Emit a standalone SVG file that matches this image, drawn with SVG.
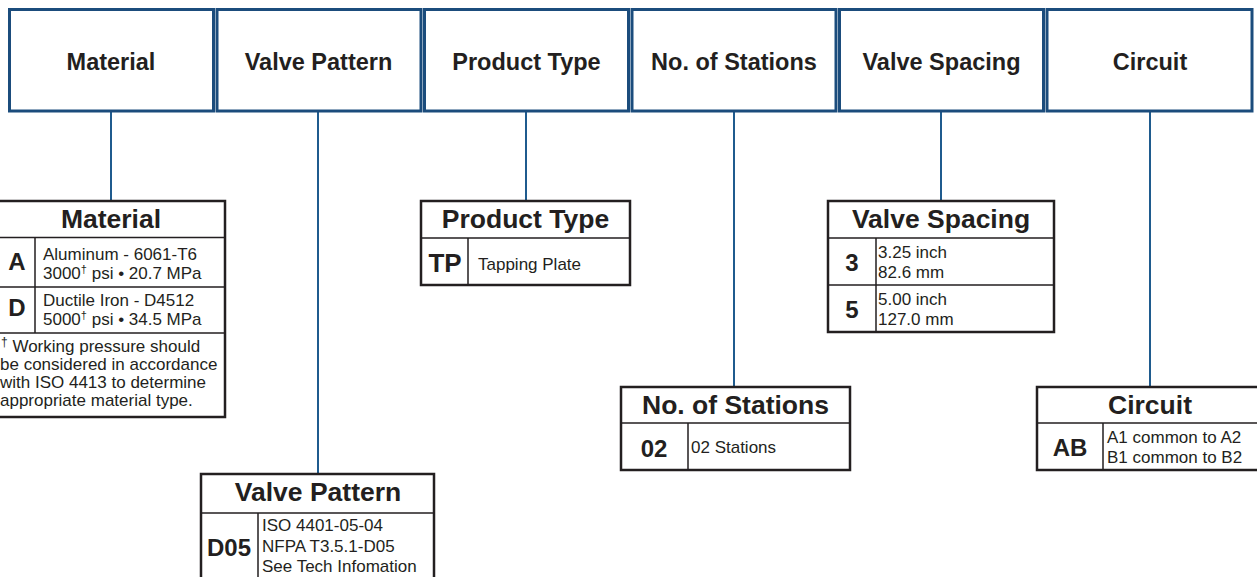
<svg xmlns="http://www.w3.org/2000/svg" width="1257" height="577" viewBox="0 0 1257 577">
<style>
text{font-family:"Liberation Sans",Arial,sans-serif;fill:#231f20}
.hb{fill:#fff;stroke:#1b4c7c;stroke-width:3}
.hd{font-size:23.5px;font-weight:bold;text-anchor:middle}
.tb{fill:#fff;stroke:#231f20;stroke-width:2.5}
.ln{stroke:#231f20;stroke-width:1.5;fill:none}
.tt{font-size:26.5px;font-weight:bold;text-anchor:middle}
.cd{font-size:24px;font-weight:bold;text-anchor:middle}
.ds{font-size:17px}
.sup{font-size:11px}
.cn{stroke:#1f5b8e;stroke-width:2;fill:none}
</style>
<g id="connectors">
<line class="cn" x1="111" y1="112" x2="111" y2="201"/>
<line class="cn" x1="318" y1="112" x2="318" y2="474"/>
<line class="cn" x1="526" y1="112" x2="526" y2="201"/>
<line class="cn" x1="734" y1="112" x2="734" y2="387"/>
<line class="cn" x1="941" y1="112" x2="941" y2="201"/>
<line class="cn" x1="1150" y1="112" x2="1150" y2="387"/>
</g>
<g id="hdr-material"><rect class="hb" x="9.5" y="9.5" width="204" height="101.5"/><text class="hd" x="111" y="70">Material</text></g>
<g id="hdr-valve-pattern"><rect class="hb" x="217" y="9.5" width="204" height="101.5"/><text class="hd" x="318.5" y="70">Valve Pattern</text></g>
<g id="hdr-product-type"><rect class="hb" x="424.5" y="9.5" width="204" height="101.5"/><text class="hd" x="526.5" y="70">Product Type</text></g>
<g id="hdr-stations"><rect class="hb" x="632" y="9.5" width="204" height="101.5"/><text class="hd" x="734" y="70">No. of Stations</text></g>
<g id="hdr-spacing"><rect class="hb" x="839.5" y="9.5" width="204" height="101.5"/><text class="hd" x="941.5" y="70">Valve Spacing</text></g>
<g id="hdr-circuit"><rect class="hb" x="1047" y="9.5" width="205" height="101.5"/><text class="hd" x="1150" y="70">Circuit</text></g>

<g id="tbl-material">
<rect class="tb" x="-3" y="201" width="228" height="216"/>
<path class="ln" d="M-3 237.5H225M-3 287H225M-3 333H225M35 237.5V333"/>
<text class="tt" x="111" y="228">Material</text>
<text class="cd" x="17" y="270">A</text>
<text class="cd" x="17" y="316">D</text>
<text class="ds" x="43" y="260">Aluminum - 6061-T6</text>
<text class="ds" x="43" y="279">3000<tspan class="sup" dy="-6">†</tspan><tspan dy="6"> psi • 20.7 MPa</tspan></text>
<text class="ds" x="43" y="306">Ductile Iron - D4512</text>
<text class="ds" x="43" y="325">5000<tspan class="sup" dy="-6">†</tspan><tspan dy="6"> psi • 34.5 MPa</tspan></text>
<text class="ds" x="1" y="352"><tspan class="sup" dy="-6" style="font-size:12px">†</tspan><tspan dy="6"> Working pressure should</tspan></text>
<text class="ds" x="0" y="370">be considered in accordance</text>
<text class="ds" x="0" y="388">with ISO 4413 to determine</text>
<text class="ds" x="0" y="406">appropriate material type.</text>
</g>

<g id="tbl-valve-pattern">
<rect class="tb" x="201" y="474" width="233" height="112"/>
<path class="ln" d="M201 513H434M258 513V586"/>
<text class="tt" x="318" y="501">Valve Pattern</text>
<text class="cd" x="229" y="556">D05</text>
<text class="ds" x="262" y="531">ISO 4401-05-04</text>
<text class="ds" x="262" y="552">NFPA T3.5.1-D05</text>
<text class="ds" x="262" y="572">See Tech Infomation</text>
</g>

<g id="tbl-product-type">
<rect class="tb" x="421" y="201" width="209" height="84"/>
<path class="ln" d="M421 238H630M468 238V285"/>
<text class="tt" x="525.5" y="228">Product Type</text>
<text class="cd" x="445" y="272" style="font-size:26px">TP</text>
<text class="ds" x="478" y="270">Tapping Plate</text>
</g>

<g id="tbl-stations">
<rect class="tb" x="621" y="387" width="229" height="83"/>
<path class="ln" d="M621 423H850M688 423V470"/>
<text class="tt" x="735.5" y="414">No. of Stations</text>
<text class="cd" x="654" y="457">02</text>
<text class="ds" x="691" y="453">02 Stations</text>
</g>

<g id="tbl-spacing">
<rect class="tb" x="828" y="201" width="226" height="131"/>
<path class="ln" d="M828 238H1054M828 285H1054M876 238V332"/>
<text class="tt" x="941" y="228">Valve Spacing</text>
<text class="cd" x="852" y="271">3</text>
<text class="cd" x="852" y="318">5</text>
<text class="ds" x="878" y="258">3.25 inch</text>
<text class="ds" x="878" y="278">82.6 mm</text>
<text class="ds" x="878" y="305">5.00 inch</text>
<text class="ds" x="878" y="325">127.0 mm</text>
</g>

<g id="tbl-circuit">
<rect class="tb" x="1037" y="387" width="226" height="83"/>
<path class="ln" d="M1037 423H1263M1103 423V470"/>
<text class="tt" x="1150" y="414">Circuit</text>
<text class="cd" x="1070" y="456">AB</text>
<text class="ds" x="1107" y="443">A1 common to A2</text>
<text class="ds" x="1107" y="463">B1 common to B2</text>
</g>
</svg>
